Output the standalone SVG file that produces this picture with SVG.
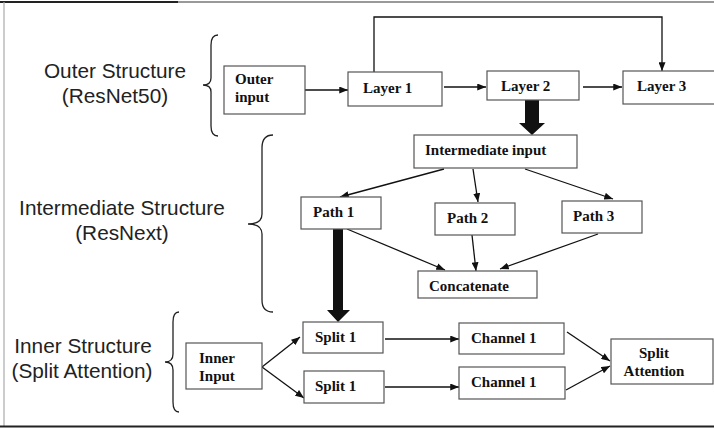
<svg xmlns="http://www.w3.org/2000/svg" width="714" height="428" viewBox="0 0 714 428">
<defs>
<marker id="ah" viewBox="0 0 10 8" refX="10" refY="4" markerWidth="9" markerHeight="7" markerUnits="userSpaceOnUse" orient="auto">
<path d="M0,0 L10,4 L0,8 Z" fill="#111"/>
</marker>
<style>
.box{fill:#fff;stroke:#555;stroke-width:1.2}
.lbl{font-family:"Liberation Serif","Times New Roman",serif;font-weight:bold;font-size:15px;fill:#111}
.sec{font-family:"Liberation Sans",Arial,sans-serif;font-size:20.8px;fill:#222;text-anchor:middle}
.con{fill:none;stroke:#111;stroke-width:1.3}
.brace{fill:none;stroke:#222;stroke-width:1.3}
.thick{fill:#111}
</style>
</defs>
<rect width="714" height="428" fill="#fff"/>
<g id="frame">
<line x1="0" y1="2" x2="178" y2="2" stroke="#222" stroke-width="2"/>
<line x1="178" y1="2" x2="714" y2="2" stroke="#777" stroke-width="1.3"/>
<line x1="4" y1="2" x2="4" y2="426" stroke="#aaa" stroke-width="1.2"/>
<line x1="0" y1="426.5" x2="714" y2="426.5" stroke="#222" stroke-width="2"/>
</g>
<g id="section-labels">
<text class="sec" x="115" y="78">Outer Structure</text>
<text class="sec" x="115" y="103">(ResNet50)</text>
<text class="sec" x="122" y="215">Intermediate Structure</text>
<text class="sec" x="122" y="240">(ResNext)</text>
<text class="sec" x="83" y="353">Inner Structure</text>
<text class="sec" x="82" y="378">(Split Attention)</text>
</g>
<g id="braces">
<path class="brace" d="M218,35 Q211,35 211,45 L211,78 Q211,85 203,85 Q211,85 211,92 L211,126 Q211,136 218,136"/>
<path class="brace" d="M273,135 Q262,135 262,148 L262,214 Q262,224 248,224 Q262,224 262,234 L262,300 Q262,312 273,312"/>
<path class="brace" d="M179,312 Q173,312 173,322 L173,354 Q173,362 165,362 Q173,362 173,370 L173,402 Q173,412 179,412"/>
</g>
<g id="connectors">
<line class="con" x1="305" y1="90" x2="348" y2="90" marker-end="url(#ah)"/>
<line class="con" x1="444" y1="87" x2="486" y2="87" marker-end="url(#ah)"/>
<line class="con" x1="583" y1="87" x2="622" y2="87" marker-end="url(#ah)"/>
<polyline class="con" points="374,72 374,17 662,17 662,71" marker-end="url(#ah)"/>
<path class="thick" d="M525,100 L539,100 L539,123 L545,123 L532,135 L519,123 L525,123 Z"/>
<line class="con" x1="444" y1="169" x2="340" y2="197" marker-end="url(#ah)"/>
<line class="con" x1="473" y1="169" x2="478" y2="202" marker-end="url(#ah)"/>
<line class="con" x1="525" y1="169" x2="613" y2="199" marker-end="url(#ah)"/>
<line class="con" x1="347" y1="229" x2="445" y2="270" marker-end="url(#ah)"/>
<line class="con" x1="472" y1="235" x2="476" y2="271" marker-end="url(#ah)"/>
<line class="con" x1="598" y1="234" x2="500" y2="269" marker-end="url(#ah)"/>
<path class="thick" d="M333,229 L343,229 L343,310 L350,310 L338,322 L327,310 L333,310 Z"/>
<line class="con" x1="262" y1="367" x2="300" y2="337" marker-end="url(#ah)"/>
<line class="con" x1="262" y1="367" x2="304" y2="398" marker-end="url(#ah)"/>
<line class="con" x1="385" y1="339" x2="459" y2="339" marker-end="url(#ah)"/>
<line class="con" x1="385" y1="387" x2="459" y2="387" marker-end="url(#ah)"/>
<line class="con" x1="567" y1="332" x2="610" y2="361" marker-end="url(#ah)"/>
<line class="con" x1="566" y1="390" x2="610" y2="366" marker-end="url(#ah)"/>
</g>
<g id="outer-input"><rect class="box" x="224" y="66" width="81" height="48"/><text class="lbl" x="235" y="84">Outer</text><text class="lbl" x="235" y="102">input</text></g>
<g id="layer1"><rect class="box" x="348" y="72" width="94" height="34"/><text class="lbl" x="363" y="93">Layer 1</text></g>
<g id="layer2"><rect class="box" x="487" y="71" width="92" height="29"/><text class="lbl" x="501" y="91">Layer 2</text></g>
<g id="layer3"><rect class="box" x="623" y="71" width="94" height="33"/><text class="lbl" x="637" y="91">Layer 3</text></g>
<g id="intermediate-input"><rect class="box" x="414" y="135" width="163" height="33"/><text class="lbl" x="425" y="155">Intermediate input</text></g>
<g id="path1"><rect class="box" x="301" y="197" width="80" height="32"/><text class="lbl" x="313" y="217">Path 1</text></g>
<g id="path2"><rect class="box" x="435" y="203" width="80" height="32"/><text class="lbl" x="447" y="223">Path 2</text></g>
<g id="path3"><rect class="box" x="562" y="201" width="80" height="32"/><text class="lbl" x="573" y="221">Path 3</text></g>
<g id="concatenate"><rect class="box" x="418" y="271" width="119" height="27"/><text class="lbl" x="429" y="291">Concatenate</text></g>
<g id="inner-input"><rect class="box" x="186" y="343" width="76" height="46"/><text class="lbl" x="199" y="363">Inner</text><text class="lbl" x="199" y="381">Input</text></g>
<g id="split1-top"><rect class="box" x="303" y="322" width="80" height="31"/><text class="lbl" x="315" y="342">Split 1</text></g>
<g id="split1-bottom"><rect class="box" x="304" y="371" width="80" height="32"/><text class="lbl" x="315" y="391">Split 1</text></g>
<g id="channel1-top"><rect class="box" x="459" y="323" width="105" height="31"/><text class="lbl" x="471" y="343">Channel 1</text></g>
<g id="channel1-bottom"><rect class="box" x="459" y="367" width="106" height="32"/><text class="lbl" x="471" y="387">Channel 1</text></g>
<g id="split-attention"><rect class="box" x="611" y="339" width="102" height="45"/><text class="lbl" x="654" y="358" text-anchor="middle">Split</text><text class="lbl" x="654" y="376" text-anchor="middle">Attention</text></g>
</svg>
